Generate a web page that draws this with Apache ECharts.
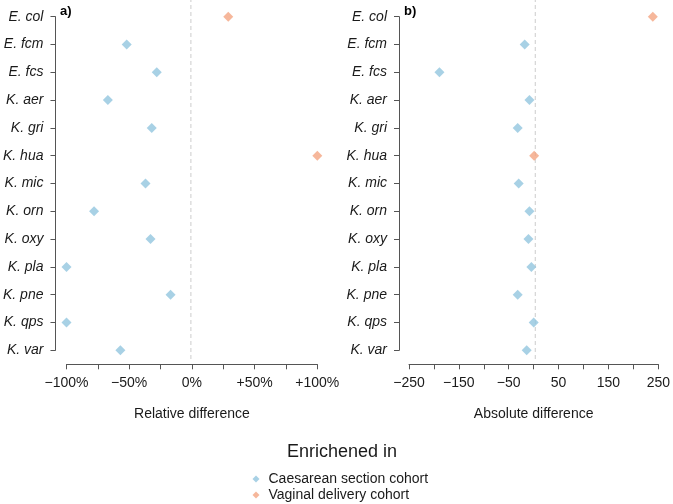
<!DOCTYPE html>
<html>
<head>
<meta charset="utf-8">
<script src="https://cdn.jsdelivr.net/npm/echarts@6/dist/echarts.min.js"></script>
<style>
html,body{margin:0;padding:0;background:#fff;}
#chart{width:673px;height:504px;}
</style>
</head>
<body>
<div id="chart"></div>
<script>
const categories = ['E. col','E. fcm','E. fcs','K. aer','K. gri','K. hua','K. mic','K. orn','K. oxy','K. pla','K. pne','K. qps','K. var'];
const relativeDiff = [29, -52, -28, -67, -32, 100, -37, -78, -33, -100, -17, -100, -57];
const absoluteDiff = [239, -18, -189, -8.5, -32, 1, -30, -8.5, -10.5, -4.6, -32, 0, -14];
const enrichedIn = ['V','C','C','C','C','V','C','C','C','C','C','C','C'];
const groupKeys = ['C','V'];
const groupNames = ['Caesarean section cohort','Vaginal delivery cohort'];
const groupColors = ['#92C5DE','#F4A582'];
const relTickValues = [-100, -50, 0, 50, 100];
const relTickLabels = ['\u2212100%', '\u221250%', '0%', '+50%', '+100%'];
const absTickValues = [-250, -150, -50, 50, 150, 250];
const absTickLabels = ['\u2212250', '\u2212150', '\u221250', '50', '150', '250'];

const FONT = 'Liberation Sans, Arial, Helvetica, sans-serif';
const TXT = '#1a1a1a';
const AX = '#555555';

function seriesFor(values, gridIdx) {
  return groupKeys.map((g, gi) => ({
    name: groupNames[gi],
    type: 'scatter',
    xAxisIndex: gridIdx,
    yAxisIndex: gridIdx,
    symbol: 'diamond',
    symbolSize: 10,
    itemStyle: { color: groupColors[gi] },
    z: 5,
    data: categories.map((c, i) => enrichedIn[i] === g ? [values[i], c] : null).filter(d => d)
  }));
}

function xAxisFor(gridIdx, min, max, interval, tickVals, tickLabs, name) {
  return {
    gridIndex: gridIdx, type: 'value', min: min, max: max, interval: interval,
    offset: 14,
    axisLine: { show: true, onZero: false, lineStyle: { color: AX, width: 1 } },
    axisTick: { show: true, length: 5, lineStyle: { color: AX } },
    splitLine: { show: false },
    axisLabel: {
      show: true, interval: 0, showMinLabel: true, showMaxLabel: true, margin: 12,
      fontFamily: FONT, fontSize: 14, color: TXT,
      formatter: v => { const k = tickVals.indexOf(v); return k >= 0 ? tickLabs[k] : ''; }
    },
    name: name, nameLocation: 'middle', nameGap: 43,
    nameTextStyle: { fontFamily: FONT, fontSize: 14, color: TXT }
  };
}

function yAxisFor(gridIdx, offset) {
  return {
    gridIndex: gridIdx, type: 'category', data: categories, inverse: true, boundaryGap: false,
    offset: offset,
    axisLine: { show: true, onZero: false, lineStyle: { color: AX, width: 1 } },
    axisTick: { show: true, length: 5, lineStyle: { color: AX } },
    splitLine: { show: false },
    axisLabel: { interval: 0, margin: 12, fontFamily: FONT, fontSize: 14, fontStyle: 'italic', color: TXT }
  };
}

function dashSeries(gridIdx) {
  return {
    type: 'line', xAxisIndex: gridIdx, yAxisIndex: gridIdx,
    data: [[0, 0], [0, 1]], symbol: 'none', silent: true, z: 1,
    lineStyle: { color: '#cccccc', width: 1, type: [4, 3] }
  };
}

function legendFor(i, top) {
  return {
    data: [groupNames[i]], orient: 'horizontal', left: 247.5, top: top,
    icon: 'diamond', itemWidth: 7, itemHeight: 7, itemGap: 0,
    textStyle: { fontFamily: FONT, fontSize: 14, color: TXT, padding: [0, 0, 0, 4] }
  };
}

const option = {
  animation: false,
  backgroundColor: '#ffffff',
  title: [
    { text: 'a)', left: 55, top: 0, textStyle: { fontFamily: FONT, fontSize: 13, fontWeight: 'bold', color: '#000' } },
    { text: 'b)', left: 399, top: 0, textStyle: { fontFamily: FONT, fontSize: 13, fontWeight: 'bold', color: '#000' } },
    { text: 'Enrichened in', left: 282, top: 438, textStyle: { fontFamily: FONT, fontSize: 18, fontWeight: 'normal', color: TXT } }
  ],
  legend: [legendFor(0, 467), legendFor(1, 483)],
  grid: [
    { left: 64.5, right: 355.7, top: 16.7, bottom: 153.7 },
    { left: 409, right: 11.5, top: 16.7, bottom: 153.7 },
    { left: 64.5, right: 355.7, top: 0, bottom: 145 },
    { left: 409, right: 11.5, top: 0, bottom: 145 }
  ],
  xAxis: [
    xAxisFor(0, -100, 100, 25, relTickValues, relTickLabels, 'Relative difference'),
    xAxisFor(1, -250, 250, 50, absTickValues, absTickLabels, 'Absolute difference'),
    { gridIndex: 2, type: 'value', min: -100, max: 100, show: false },
    { gridIndex: 3, type: 'value', min: -250, max: 250, show: false }
  ],
  yAxis: [
    yAxisFor(0, 11),
    yAxisFor(1, 10),
    { gridIndex: 2, type: 'value', min: 0, max: 1, show: false },
    { gridIndex: 3, type: 'value', min: 0, max: 1, show: false }
  ],
  series: [
    dashSeries(2), dashSeries(3),
    ...seriesFor(relativeDiff, 0),
    ...seriesFor(absoluteDiff, 1)
  ]
};

const chart = echarts.init(document.getElementById('chart'), null, { renderer: 'canvas' });
chart.setOption(option);
</script>
</body>
</html>
